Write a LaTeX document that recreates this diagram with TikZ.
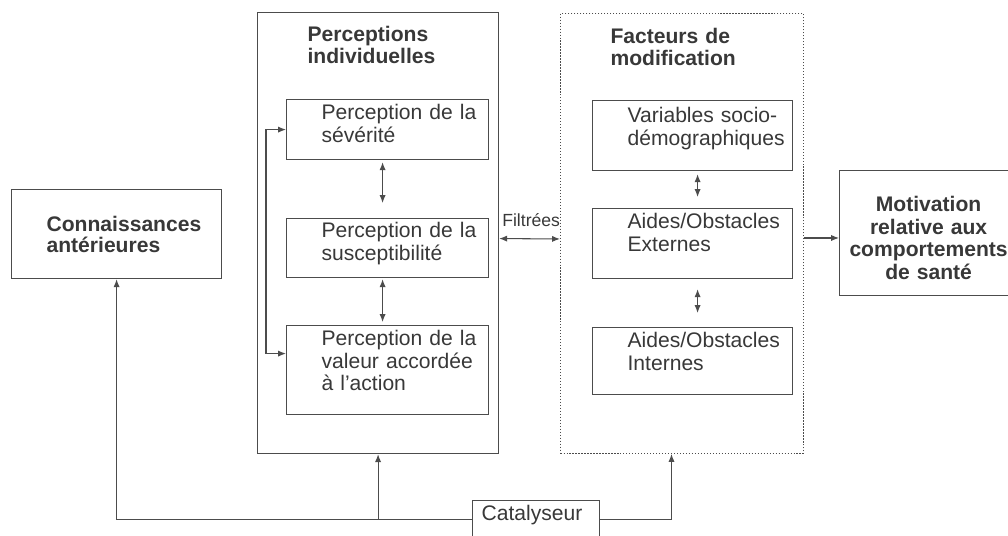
\documentclass[tikz,border=0pt]{standalone}
\usepackage{fontspec}
\setmainfont{Liberation Sans}
\usetikzlibrary{arrows.meta}
\definecolor{inkgray}{gray}{0.22}
\definecolor{framegray}{gray}{0.3}
\tikzset{
   frame/.style={draw=framegray,line width=0.7pt,anchor=north west,inner sep=0pt,text=inkgray,
      font=\fontsize{12}{12.8}\selectfont},
   box/.style={frame,align=left,execute at begin node={\leftskip=#1}},
   box/.default=0.7cm,
   title/.style={font=\fontsize{12}{12.5}\selectfont\bfseries},
   link/.style={framegray,line width=0.6pt,>={Latex[length=4.5pt,width=3.5pt]}}
}
\begin{document}
\begin{tikzpicture}[x=0.02cm,y=-0.02cm]
   \useasboundingbox (0,0) rectangle (1008,536);
   \node[box=1cm,title,text width=4.82cm,text height=0.58cm,text depth=8.24cm] (perc) at (257,12) {Perceptions\\individuelles};
   \node[box=1cm,title,densely dotted,line width=0.6pt,text width=4.86cm,text height=0.6cm,text depth=8.2cm] (fact) at (560,13) {Facteurs de\\modification};
   \node[box,text width=4.04cm,text height=0.4cm,text depth=0.8cm] (sev) at (286,99) {Perception de la\\sévérité};
   \node[box,text width=4.04cm,text height=0.38cm,text depth=0.8cm] (sus) at (286,218) {Perception de la\\susceptibilité};
   \node[box,text width=4.04cm,text height=0.4cm,text depth=1.38cm] (val) at (286,325) {Perception de la\\valeur accordée\\à l’action};
   \node[box,text width=4cm,text height=0.44cm,text depth=0.96cm] (var) at (592,100) {Variables socio-\\démographiques};
   \node[box,text width=4cm,text height=0.4cm,text depth=1cm] (ext) at (592,208) {Aides/Obstacles\\Externes};
   \node[box,text width=4cm,text height=0.4cm,text depth=0.94cm] (int) at (592,327) {Aides/Obstacles\\Internes};
   \node[box,title,font=\fontsize{12}{12}\selectfont\bfseries,text width=4.2cm,text height=0.84cm,text depth=0.94cm] (con) at (11,189) {Connaissances\\antérieures};
   \node[frame,title,align=center,font=\fontsize{12}{12.9}\selectfont\bfseries,text width=3.56cm,text height=0.82cm,text depth=1.68cm] (mot) at (839,170) {Motivation\\relative aux\\comportements\\de santé};
   \node[box=0.18cm,text width=2.54cm,text height=0.4cm,text depth=0.36cm] (cat) at (472,500) {Catalyseur};
   \node[anchor=base west,inner sep=0pt,text=inkgray,font=\fontsize{10}{12}\selectfont] (filt) at (502,227) {Filtrées};
   \draw[link,<->] (sev.west) -- ++(-20,0) |- ([yshift=0.33cm]val.west);
   \draw[link,<->,shorten <=0.04cm,shorten >=0.3cm] ([xshift=-0.1cm]sev.south) -- ([xshift=-0.1cm]sus.north);
   \draw[link,<->,shorten <=0.02cm,shorten >=0.06cm] ([xshift=-0.1cm]sus.south) -- ([xshift=-0.1cm]val.north);
   \draw[link,<->,shorten <=0.06cm,shorten >=0.22cm] ([xshift=0.1cm]var.south) -- ([xshift=0.1cm]ext.north);
   \draw[link,<->,shorten <=0.2cm,shorten >=0.28cm] ([xshift=0.1cm]ext.south) -- ([xshift=0.1cm]int.north);
   \draw[link,<->] ([yshift=-0.11cm]perc.east) -- ([yshift=-0.11cm]fact.west);
   \draw[link,->] ([yshift=-0.09cm]fact.east) -- ([yshift=-0.09cm]fact.east -| mot.west);
   \draw[link,->] (cat.west) -| (con.south);
   \draw[link,->] (cat.west -| perc.south) -- (perc.south);
   \draw[link,->] (cat.east) -| ([xshift=-0.21cm]fact.south);
\end{tikzpicture}
\end{document}
